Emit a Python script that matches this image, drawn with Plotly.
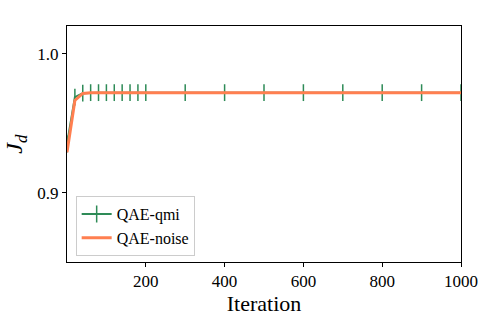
import plotly.graph_objects as go

iterations = [0, 20, 40, 60, 80, 100, 120, 140, 160, 180, 200,
              300, 400, 500, 600, 700, 800, 900, 1000]
qae_qmi = [0.935, 0.9688, 0.9716, 0.972, 0.972, 0.972, 0.972, 0.972, 0.972, 0.972, 0.972,
           0.972, 0.972, 0.972, 0.972, 0.972, 0.972, 0.972, 0.972]
qae_noise = [0.929, 0.9664, 0.9714, 0.972, 0.972, 0.972, 0.972, 0.972, 0.972, 0.972, 0.972,
             0.972, 0.972, 0.972, 0.972, 0.972, 0.972, 0.972, 0.972]

serif = "Liberation Serif, Times New Roman, serif"

fig = go.Figure()

fig.add_trace(go.Scatter(
    x=iterations, y=qae_qmi, name="QAE-qmi",
    mode="lines+markers",
    line=dict(color="#2e8b57", width=2),
    marker=dict(symbol="line-ns", size=12, line=dict(color="#2e8b57", width=1.5)),
))

fig.add_trace(go.Scatter(
    x=iterations, y=qae_noise, name="QAE-noise",
    mode="lines",
    line=dict(color="#ff7f50", width=3),
))

axis_common = dict(
    showline=True, linecolor="black", linewidth=1, mirror=True,
    ticks="outside", ticklen=4, tickcolor="black",
    showgrid=False, zeroline=False, automargin=False,
    tickfont=dict(family=serif, size=17, color="black"),
)

fig.update_layout(
    width=480, height=320,
    margin=dict(l=67, r=19, t=26, b=58),
    paper_bgcolor="white", plot_bgcolor="white",
    xaxis=dict(range=[0, 1000], tickvals=[200, 400, 600, 800, 1000],
               title=dict(text="Iteration", font=dict(family=serif, size=22, color="black"),
                          standoff=4),
               **axis_common),
    yaxis=dict(range=[0.85, 1.02], tickvals=[0.9, 1.0], ticktext=["0.9", "1.0"],
               **axis_common),
    legend=dict(
        x=0.022, y=0.025, xanchor="left", yanchor="bottom",
        bgcolor="rgba(255,255,255,0.8)", bordercolor="#cccccc", borderwidth=1,
        font=dict(family=serif, size=16, color="black"),
        tracegroupgap=2,
    ),
    showlegend=True,
)

# y label as a rotated annotation (J with subscript d)
fig.add_annotation(
    text="<i>J<sub>d</sub></i>", xref="paper", yref="paper",
    x=-0.13, y=0.5, xanchor="center", yanchor="middle",
    textangle=-90, showarrow=False,
    font=dict(family=serif, size=24, color="black"),
)

# drop the default page margin so the 480x320 figure fits the window
fig.write_html("out.html", config={"displayModeBar": False},
               post_script="document.body.style.margin='0';")
